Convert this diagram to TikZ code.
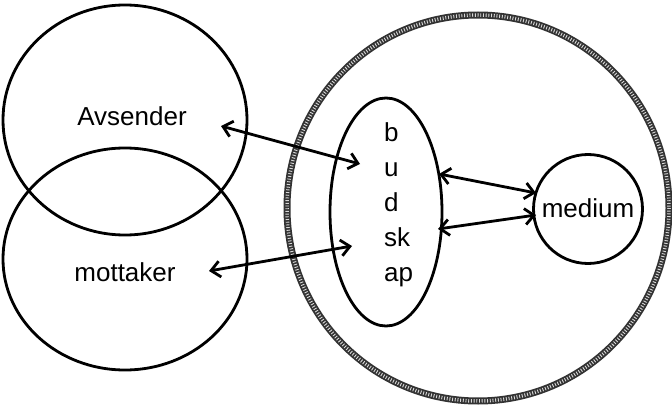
\documentclass[tikz,border=0pt]{standalone}
\usepackage{fontspec}
\setmainfont{Liberation Sans}
\usetikzlibrary{arrows.meta,shapes.geometric}
\begin{document}
\begin{tikzpicture}[x=1pt,y=-1pt,
  ring/.style={draw=black, line width=2.8pt},
  lbl/.style={font=\fontsize{26}{30}\selectfont, inner sep=0pt},
  conn/.style={draw=black, line width=2.8pt, line cap=round,
    {Straight Barb[length=9pt,width=16pt,line width=2.8pt]}-{Straight Barb[length=9pt,width=16pt,line width=2.8pt]}}
]
\useasboundingbox (0,0) rectangle (672,409);
% big textured ring
\draw[draw=black!80, line width=7pt] (478,208) ellipse [x radius=191, y radius=193];
\draw[draw=white!85!black, line width=3.5pt, dash pattern=on 0.9pt off 1.8pt] (478,208) ellipse [x radius=191, y radius=193];
% left circles
\node[ring, ellipse, minimum width=244pt, minimum height=230pt, inner sep=0pt] (avs) at (125,120) {};
\node[ring, ellipse, minimum width=244pt, minimum height=222pt, inner sep=0pt] (mot) at (125,259) {};
\node[lbl] (avst) at (132,116) {Avsender};
\node[lbl] (mott) at (125,272) {mottaker};
% budskap
\node[ring, ellipse, minimum width=112pt, minimum height=228pt, inner sep=0pt] (bud) at (386,212) {};
\node[lbl, align=left, anchor=north west, font=\fontsize{26}{35}\selectfont] (budt) at (384,122) {b\\u\\d\\sk\\ap};
% medium
\node[ring, circle, minimum size=109pt, inner sep=0pt] (med) at (588,209) {};
\node[lbl] (medt) at (588,208) {medium};
% connector ends
\coordinate (a1) at (221,126);
\coordinate (a2) at (360,164);
\coordinate (m1) at (209,271);
\coordinate (m2) at (352,246);
\coordinate (b1) at (439,174);
\coordinate (c1) at (536,193);
\coordinate (b2) at (438,229);
\coordinate (c2) at (536,215);
\draw[conn] (a1) -- (a2);
\draw[conn] (m1) -- (m2);
\draw[conn] (b1) -- (c1);
\draw[conn] (b2) -- (c2);
\end{tikzpicture}
\end{document}
